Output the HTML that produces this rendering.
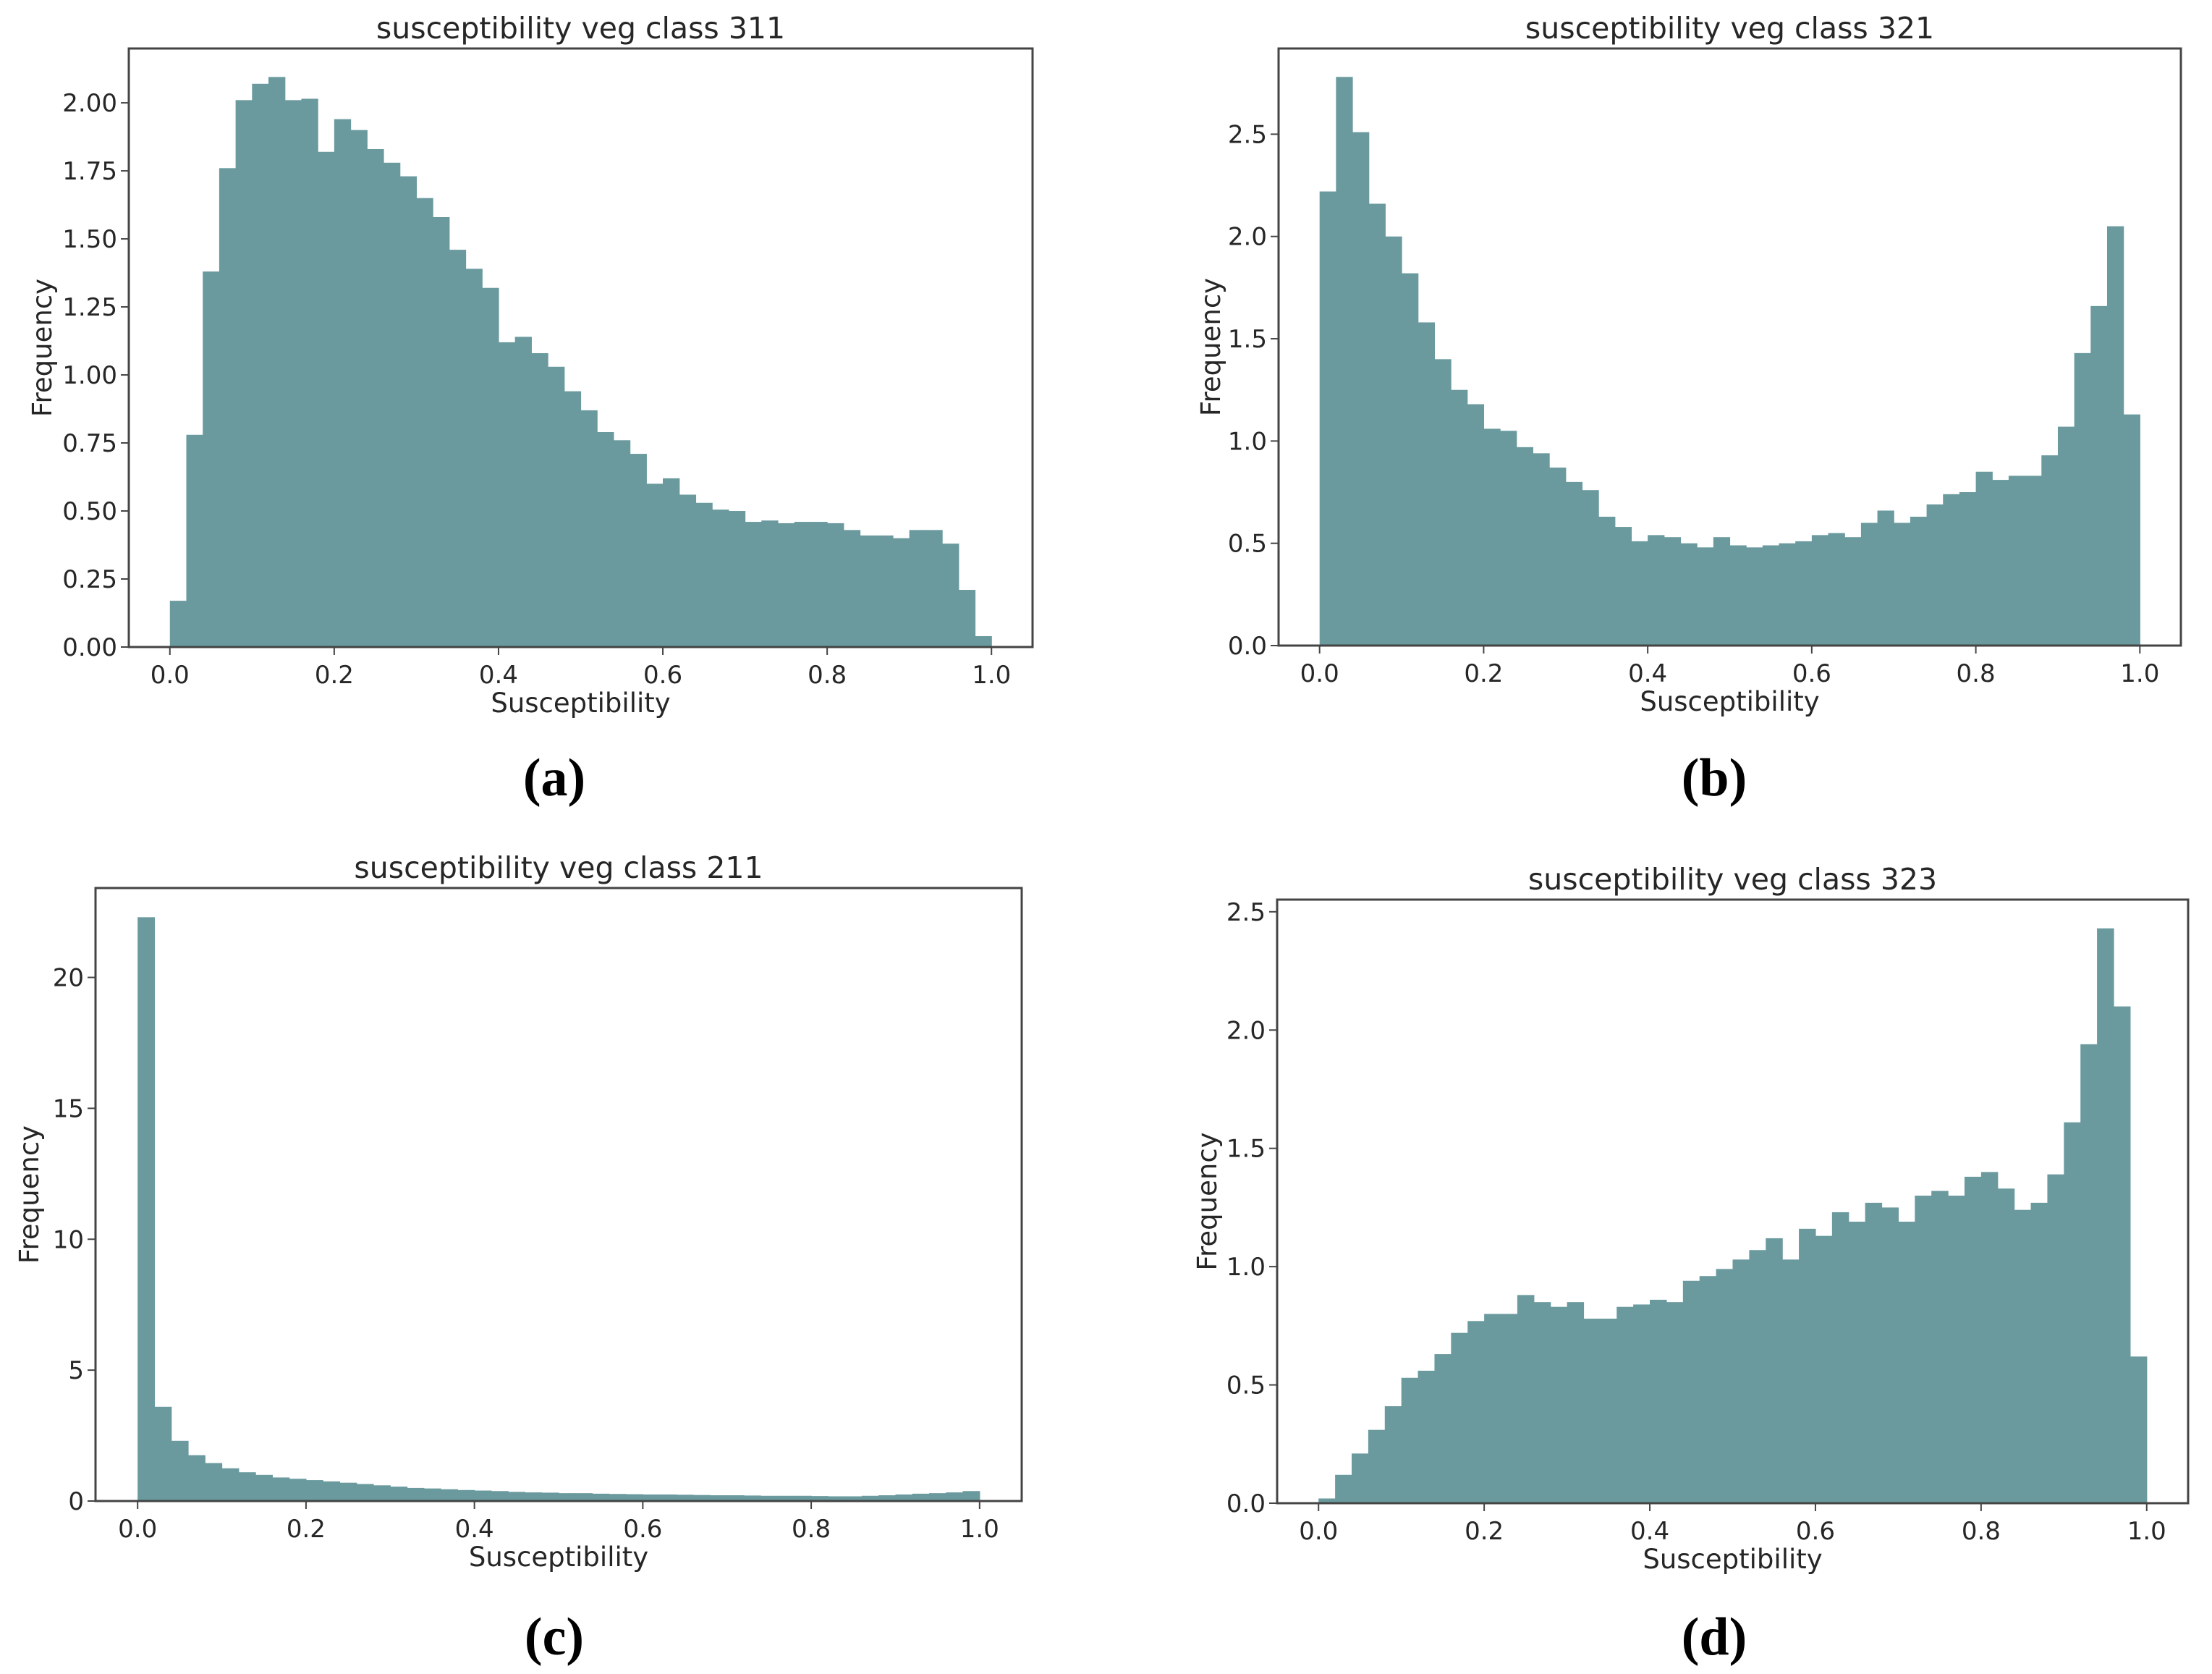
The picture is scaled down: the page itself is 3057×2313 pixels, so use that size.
<!DOCTYPE html>
<html><head><meta charset="utf-8"><style>
html,body{margin:0;padding:0;background:#fff;}
svg{display:block;}
text{font-family:"DejaVu Sans","Liberation Sans",sans-serif;fill:#262626;}
.sub{font-family:"Liberation Serif",serif;font-weight:bold;fill:#000;}
</style></head><body>
<svg id="fig" width="3057" height="2313" viewBox="0 0 3057 2313" xmlns="http://www.w3.org/2000/svg"></svg>
<script>
const valsA=[0.17,0.78,1.38,1.76,2.01,2.07,2.095,2.01,2.015,1.82,1.94,1.90,1.83,1.78,1.73,1.65,1.58,1.46,1.39,1.32,1.12,1.14,1.08,1.03,0.94,0.87,0.79,0.76,0.71,0.60,0.62,0.56,0.53,0.505,0.50,0.46,0.465,0.455,0.46,0.46,0.455,0.43,0.41,0.41,0.40,0.43,0.43,0.38,0.21,0.04];
const valsB=[2.22,2.78,2.51,2.16,2.00,1.82,1.58,1.40,1.25,1.18,1.06,1.05,0.97,0.94,0.87,0.80,0.76,0.63,0.58,0.51,0.54,0.53,0.50,0.48,0.53,0.49,0.48,0.49,0.50,0.51,0.54,0.55,0.53,0.60,0.66,0.60,0.63,0.69,0.74,0.75,0.85,0.81,0.83,0.83,0.93,1.07,1.43,1.66,2.05,1.13];
const valsC=[22.3,3.6,2.3,1.75,1.45,1.25,1.1,1.0,0.9,0.85,0.8,0.75,0.7,0.65,0.6,0.55,0.5,0.48,0.45,0.42,0.4,0.38,0.35,0.33,0.32,0.3,0.3,0.28,0.27,0.26,0.25,0.25,0.24,0.23,0.22,0.22,0.21,0.2,0.2,0.2,0.19,0.18,0.18,0.2,0.22,0.25,0.28,0.3,0.33,0.38];
const valsD=[0.02,0.12,0.21,0.31,0.41,0.53,0.56,0.63,0.72,0.77,0.80,0.80,0.88,0.85,0.83,0.85,0.78,0.78,0.83,0.84,0.86,0.85,0.94,0.96,0.99,1.03,1.07,1.12,1.03,1.16,1.13,1.23,1.19,1.27,1.25,1.19,1.30,1.32,1.30,1.38,1.40,1.33,1.24,1.27,1.39,1.61,1.94,2.43,2.10,0.62];
const ticksA=["0.00","0.25","0.50","0.75","1.00","1.25","1.50","1.75","2.00"];
const ticksB=["0.0","0.5","1.0","1.5","2.0","2.5"];
const ticksC=["0","5","10","15","20"];
const ticksD=["0.0","0.5","1.0","1.5","2.0","2.5"];
const xTicks=["0.0","0.2","0.4","0.6","0.8","1.0"];
const titles=["susceptibility veg class 311","susceptibility veg class 321","susceptibility veg class 211","susceptibility veg class 323"];
const subLabels=["(a)","(b)","(c)","(d)"];

const NS="http://www.w3.org/2000/svg";
const svg=document.getElementById('fig');
function mk(tag,attrs,parent){const e=document.createElementNS(NS,tag);for(const k in attrs)e.setAttribute(k,attrs[k]);(parent||svg).appendChild(e);return e;}

const panels=[
 {L:178,R:1427,T:67,B:894,vals:valsA,ticks:ticksA,ylx:58,subX:766,subY:1075,id:'a'},
 {L:1767,R:3014,T:67,B:892,vals:valsB,ticks:ticksB,ylx:1673,subX:2369,subY:1075,id:'b'},
 {L:132,R:1412,T:1227,B:2074,vals:valsC,ticks:ticksC,ylx:40,subX:766,subY:2262,id:'c'},
 {L:1765,R:3024,T:1243,B:2077,vals:valsD,ticks:ticksD,ylx:1668,subX:2369,subY:2262,id:'d'}
];
panels.forEach((p,i)=>{
  const g=mk('g',{});
  
  
  const W=p.R-p.L;
  const n=p.vals.length;
  const ymax=Math.max(...p.vals)*1.05;
  const xs=v=>p.L+W*(v+0.05)/1.1;
  const ys=v=>p.B-(p.B-p.T)*v/ymax;
  p.vals.forEach((v,k)=>{
    const x0=xs(k/n),x1=xs((k+1)/n);
    const r=mk('rect',{x:x0,y:ys(v),width:x1-x0+0.6,height:p.B-ys(v),fill:'#6a9a9e'},g);
    
    
  });
  const fr=mk('rect',{x:p.L,y:p.T,width:W,height:p.B-p.T,fill:'none',stroke:'#444',"stroke-width":3},g);
  
  
  p.ticks.forEach(t=>{
    const y=ys(parseFloat(t));
    mk('line',{x1:p.L-11,x2:p.L,y1:y,y2:y,stroke:'#444',"stroke-width":2},g);
    const tx=mk('text',{x:p.L-16,y:y+12,"text-anchor":"end","font-size":34},g);
    tx.textContent=t;
    
    
  });
  xTicks.forEach(t=>{
    const x=xs(parseFloat(t));
    mk('line',{x1:x,x2:x,y1:p.B,y2:p.B+11,stroke:'#444',"stroke-width":2},g);
    const tx=mk('text',{x:x,y:p.B+50,"text-anchor":"middle","font-size":34},g);
    tx.textContent=t;
    
    
  });
  const ti=mk('text',{x:(p.L+p.R)/2,y:p.T-14,"text-anchor":"middle","font-size":41},g);
  ti.textContent=titles[i];
  
  
  const xl=mk('text',{x:(p.L+p.R)/2,y:p.B+90,"text-anchor":"middle","font-size":37},g);
  xl.textContent='Susceptibility';
  
  
  const cy=(p.T+p.B)/2;
  const yl=mk('text',{x:p.ylx,y:cy,"text-anchor":"middle","font-size":37,transform:'rotate(-90 '+p.ylx+' '+cy+')',dy:'0.35em'},g);
  yl.textContent='Frequency';
  
  
  const sl=mk('text',{x:p.subX,y:p.subY+24,"text-anchor":"middle","font-size":74,class:'sub'},g);
  sl.textContent=subLabels[i];
  
  
});
</script>
</body></html>
